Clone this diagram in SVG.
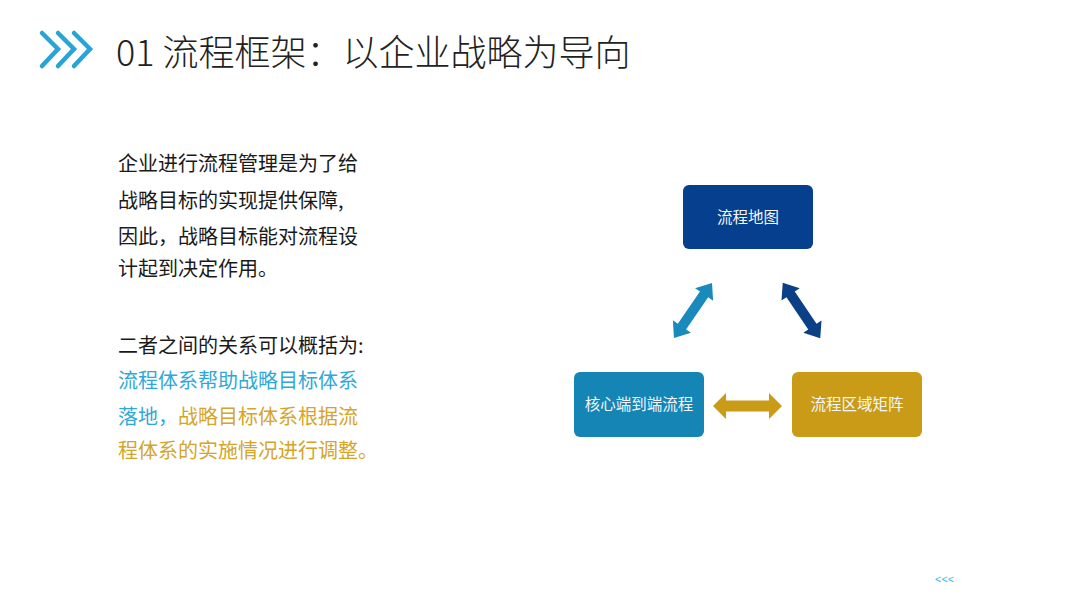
<svg xmlns="http://www.w3.org/2000/svg" width="1080" height="608" viewBox="0 0 1080 608">
<defs>
<style>
.title{font-family:"Noto Sans CJK SC","Noto Sans",sans-serif;font-weight:300;font-size:36px;fill:#222}
.body{font-family:"Noto Sans CJK SC","Noto Sans",sans-serif;font-weight:400;font-size:20px;fill:#1a1a1a}
.blue{fill:#2fa8d8}
.gold{fill:#d4a52a}
.node{font-family:"Noto Sans CJK SC","Noto Sans",sans-serif;font-size:15.5px;fill:#f2f6fb;text-anchor:middle}
.chev{fill:none;stroke:#2aa3d8;stroke-width:4.5;stroke-linecap:round;stroke-linejoin:miter}
</style>
<polygon id="dbl" points="-33.5,0 -19.5,-11 -19.5,-5 19.5,-5 19.5,-11 33.5,0 19.5,11 19.5,5 -19.5,5 -19.5,11"/>
</defs>
<rect width="1080" height="608" fill="#ffffff"/>
<g id="header">
<polyline class="chev" points="42,33 58,49 42,66"/>
<polyline class="chev" points="58,33 74,49 58,66"/>
<polyline class="chev" points="74,33 90,49 74,66"/>
<text class="title" x="116" y="66">01 流程框架：以企业战略为导向</text>
</g>
<g id="body-text" class="body">
<text x="118" y="171">企业进行流程管理是为了给</text>
<text x="118" y="208">战略目标的实现提供保障,</text>
<text x="118" y="244">因此，战略目标能对流程设</text>
<text x="118" y="276">计起到决定作用。</text>
<text x="118" y="353">二者之间的关系可以概括为:</text>
<text x="118" y="388" class="blue">流程体系帮助战略目标体系</text>
<text x="118" y="424"><tspan class="blue">落地，</tspan><tspan class="gold">战略目标体系根据流</tspan></text>
<text x="118" y="458" class="gold">程体系的实施情况进行调整。</text>
</g>
<g id="connectors">
<use href="#dbl" fill="#1a89bb" transform="translate(693,310.5) rotate(-55.4)"/>
<use href="#dbl" fill="#0b3f86" transform="translate(801.5,310.5) rotate(56)"/>
<polygon fill="#c99b16" points="713,406 726,393 726,400.5 769,400.5 769,393 782,406 769,419 769,411.5 726,411.5 726,419"/>
</g>
<g id="node-map">
<rect x="683" y="185" width="130" height="64" rx="6" fill="#063f8e"/>
<text class="node" x="748" y="222.5">流程地图</text>
</g>
<g id="node-e2e">
<rect x="574" y="372" width="130" height="65" rx="6" fill="#1485b5"/>
<text class="node" x="639" y="410">核心端到端流程</text>
</g>
<g id="node-matrix">
<rect x="792" y="372" width="130" height="65" rx="6" fill="#c99b16"/>
<text class="node" x="857" y="410">流程区域矩阵</text>
</g>
<text x="935" y="583" font-family="Liberation Sans, sans-serif" font-size="11" fill="#4ab3dc">&lt;&lt;&lt;</text>
</svg>
